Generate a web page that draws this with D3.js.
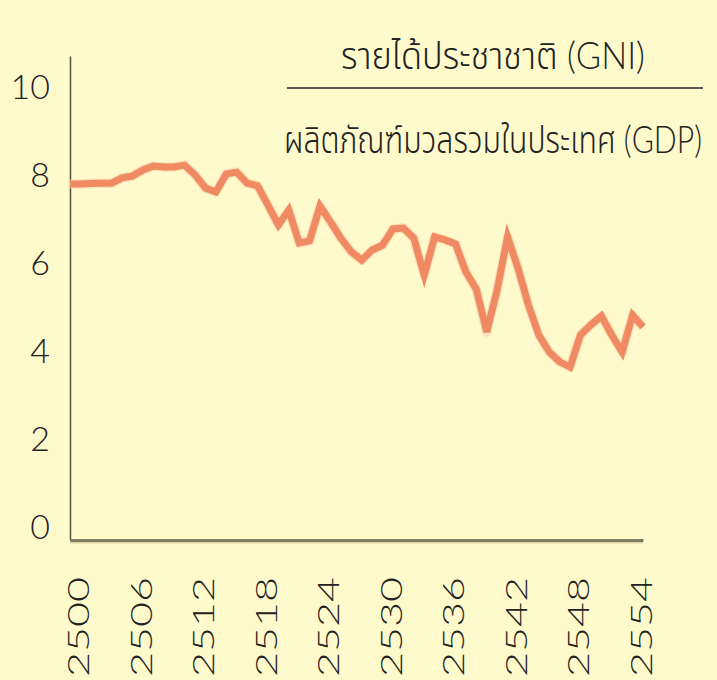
<!DOCTYPE html>
<html>
<head>
<meta charset="utf-8">
<script src="https://cdn.jsdelivr.net/npm/d3@7"></script>
<style>
  body { margin: 0; background: #fefacb; }
  svg { display: block; }
  text { font-family: Lato, "Noto Sans Thai", Loma, sans-serif; font-weight: 300; fill: #222; }
</style>
</head>
<body>
<svg id="graph" width="717" height="680"></svg>
<script>
(function() {

// ratio GNI / GDP, years 2500 - 2555 (Buddhist era)
const years = d3.range(2500, 2556);
const ratio = [
  8.09, 8.09, 8.10, 8.11, 8.11, 8.23, 8.27, 8.41, 8.50, 8.48,
  8.48, 8.52, 8.30, 8.00, 7.91, 8.32, 8.36, 8.11, 8.05, 7.61,
  7.16, 7.50, 6.75, 6.80, 7.59, 7.23, 6.86, 6.55, 6.36, 6.59,
  6.70, 7.07, 7.09, 6.86, 6.02, 6.89, 6.82, 6.73, 6.09, 5.70,
  4.73, 5.68, 6.89, 6.18, 5.34, 4.66, 4.27, 4.05, 3.93, 4.66,
  4.89, 5.09, 4.66, 4.27, 5.11, 4.84
];
const yTicks = [0, 2, 4, 6, 8, 10];
const xTicks = [2500, 2506, 2512, 2518, 2524, 2530, 2536, 2542, 2548, 2554];
const titleTop = 'รายได้ประชาชาติ (GNI)';
const titleBottom = 'ผลิตภัณฑ์มวลรวมในประเทศ (GDP)';

const svg = d3.select('#graph');

const x = d3.scaleLinear()
  .domain([2500, 2555])
  .range([70, 643]);

const y = d3.scaleLinear()
  .domain([0, 11])
  .range([540, 56]);

const data = years.map((yr, i) => ({year: yr, value: ratio[i]}));

// axes
const yAxis = svg.append('g')
  .attr('transform', 'translate(70,0)')
  .call(d3.axisLeft(y).tickValues(yTicks).tickSize(0).tickPadding(20));
yAxis.select('.domain').attr('stroke', '#55553f').attr('stroke-width', 1.5);
yAxis.selectAll('text')
  .attr('font-size', 34)
  .attr('dy', '-0.05em')
  .style('font-family', 'Lato, sans-serif')
  .style('font-weight', 300)
  .attr('fill', '#222');

svg.append('line')
  .attr('x1', x(2500)).attr('x2', x(2555))
  .attr('y1', y(0) + 2).attr('y2', y(0) + 2)
  .attr('stroke', '#d8d4a8').attr('stroke-width', 3);

const xAxis = svg.append('g')
  .attr('transform', `translate(0,${y(0)})`)
  .call(d3.axisBottom(x).tickValues(xTicks).tickSize(0).tickFormat(d3.format('d')));
xAxis.select('.domain').attr('stroke', '#7d7d62').attr('stroke-width', 3);
xAxis.selectAll('text')
  .attr('font-size', 30)
  .attr('text-anchor', 'end')
  .attr('transform', 'rotate(-90)')
  .attr('x', -37)
  .attr('y', 8)
  .attr('dy', '0.35em')
  .attr('dx', 0)
  .attr('textLength', 100)
  .attr('lengthAdjust', 'spacingAndGlyphs')
  .style('font-family', 'Lato, sans-serif')
  .style('font-weight', 300)
  .attr('fill', '#222');

// line
const line = d3.line()
  .x(d => x(d.year))
  .y(d => y(d.value));

svg.append('path')
  .datum(data)
  .attr('fill', 'none')
  .attr('stroke', '#f7c7a4')
  .attr('stroke-width', 9.5)
  .attr('stroke-linejoin', 'round')
  .attr('opacity', 0.5)
  .attr('d', line);

svg.append('path')
  .datum(data)
  .attr('fill', 'none')
  .attr('stroke', '#ef8a62')
  .attr('stroke-width', 7)
  .attr('stroke-linejoin', 'miter')
  .attr('d', line);

// title fraction, squeezed horizontally to the width of the reference
function title(txt, cx, cy, w) {
  const t = svg.append('text')
    .attr('text-anchor', 'middle')
    .attr('font-size', 38)
    .text(txt);
  const len = t.node().getComputedTextLength();
  t.attr('transform', `translate(${cx},${cy}) scale(${w / len},1)`);
}

title(titleTop, 493, 69, 304);

svg.append('line')
  .attr('x1', 287).attr('x2', 703)
  .attr('y1', 88).attr('y2', 88)
  .attr('stroke', '#222').attr('stroke-width', 1.5);

title(titleBottom, 493, 153, 418);

})();
</script>
</body>
</html>
